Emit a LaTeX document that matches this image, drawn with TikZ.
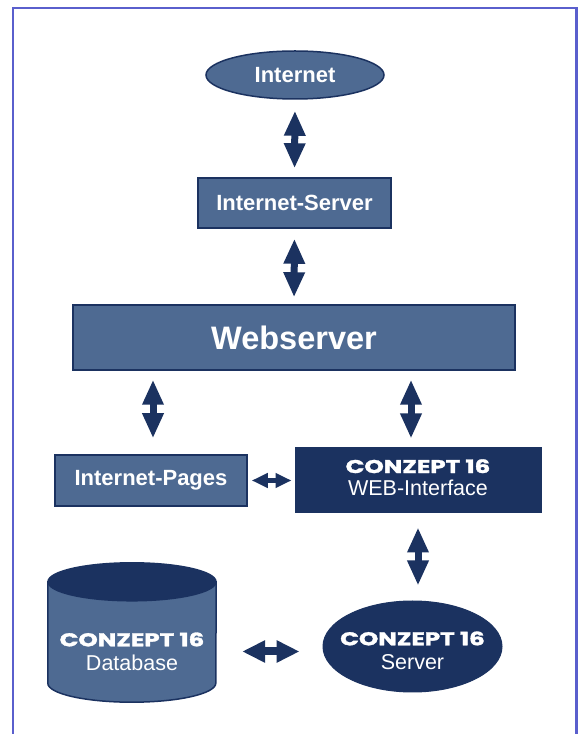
\documentclass[tikz,border=0pt]{standalone}
\usepackage{fontspec}
\usepackage{graphicx}
\setmainfont{Liberation Sans}
\newfontfamily\czfont{Poppins}[FakeBold=1.6]
\usetikzlibrary{arrows.meta,shapes.geometric}
\definecolor{midblue}{RGB}{78,106,146}
\definecolor{navy}{RGB}{27,50,96}
\definecolor{framec}{RGB}{90,95,205}
\newcommand{\czlabel}{{\czfont\bfseries\fontsize{18.5}{20}\selectfont\scalebox{1.33}[1]{CONZEPT 16}}}
\tikzset{
  lightbox/.style={fill=midblue, draw=navy, line width=1.5pt, text=white, inner sep=0pt,
    font=\bfseries\fontsize{22}{24}\selectfont},
  darkbox/.style={fill=navy, draw=navy, line width=1pt, text=white, inner sep=0pt, align=center,
    font=\fontsize{21.5}{21}\selectfont},
  cztext/.style={text=white, align=center, inner sep=0pt, font=\fontsize{21.5}{24}\selectfont},
  fatarrow/.style={draw=navy, line width=7pt,
    {Triangle[length=25pt,width=20pt]}-{Triangle[length=25pt,width=20pt]}},
  hfatarrow/.style={draw=navy, line width=8pt,
    {Triangle[length=23pt,width=21pt]}-{Triangle[length=23pt,width=21pt]}},
  smallarrow/.style={draw=navy, line width=5pt,
    {Triangle[length=16pt,width=14pt]}-{Triangle[length=16pt,width=14pt]}},
  framestyle/.style={draw=framec, line width=2.5pt}
}
\begin{document}
\begin{tikzpicture}[x=1pt,y=1pt]
\useasboundingbox (0,0) rectangle (580,734);
\fill[white] (0,0) rectangle (580,734);
\draw[framestyle] (13,-5) -- (13,726) -- (576.5,726) -- (576.5,-5);

% nodes
\node[lightbox, ellipse, minimum width=178pt, minimum height=48pt] (inet) at (295,659) {Internet};
\node[lightbox, minimum width=193pt, minimum height=50pt] (iserv) at (294.5,531) {Internet-Server};
\node[lightbox, minimum width=442pt, minimum height=65pt,
      font=\bfseries\fontsize{32.5}{36}\selectfont] (ws) at (294,396.5) {Webserver};
\node[lightbox, minimum width=192pt, minimum height=51pt] (ipages) at (151,253.5) {Internet-Pages};
\node[darkbox, minimum width=246pt, minimum height=65pt] (web) at (418,253.5) {};
\node[cztext, font=\fontsize{21.5}{22.5}\selectfont] (webtext) at ([yshift=3pt]web.center) {\czlabel\\WEB-Interface};
\node[darkbox, ellipse, minimum width=179pt, minimum height=91pt] (server) at (412.5,87.5) {};
\node[cztext] (servertext) at ([yshift=-4pt]server.center) {\czlabel\\Server};

% database cylinder
\node[minimum width=168pt, minimum height=101pt, inner sep=0pt] (db) at (132,82.5) {};
\filldraw[fill=midblue, draw=navy, line width=1.5pt]
  ([yshift=19pt]db.north west) -- ([yshift=19pt]db.south west)
  arc[start angle=180, end angle=360, x radius=84pt, y radius=19pt]
  -- ([yshift=19pt]db.north east) -- cycle;
\filldraw[fill=navy, draw=navy, line width=1.5pt]
  ([yshift=19pt]db.north) ellipse[x radius=84pt, y radius=19pt];
\node[cztext] (dbtext) at (db.center) {\czlabel\\Database};

% connectors
\draw[fatarrow, shorten <=11pt, shorten >=9pt] (inet.south) -- (iserv.north);
\draw[fatarrow, shorten <=10pt, shorten >=7pt] (iserv.south) -- (ws.north);
\draw[fatarrow, shorten <=9pt, shorten >=16pt] ([xshift=2pt]ipages.north |- ws.south) -- ([xshift=2pt]ipages.north);
\draw[fatarrow, shorten <=9pt, shorten >=9pt] ([xshift=-7pt]web.north |- ws.south) -- ([xshift=-7pt]web.north);
\draw[fatarrow, shorten <=14pt, shorten >=15pt] (web.south) -- (web.south |- server.north);
\draw[smallarrow, shorten <=4pt, shorten >=3pt] (ipages.east) -- (web.west);
\draw[hfatarrow, shorten <=26pt, shorten >=23pt] (db.east) -- (db.east -| server.west);
\end{tikzpicture}
\end{document}
